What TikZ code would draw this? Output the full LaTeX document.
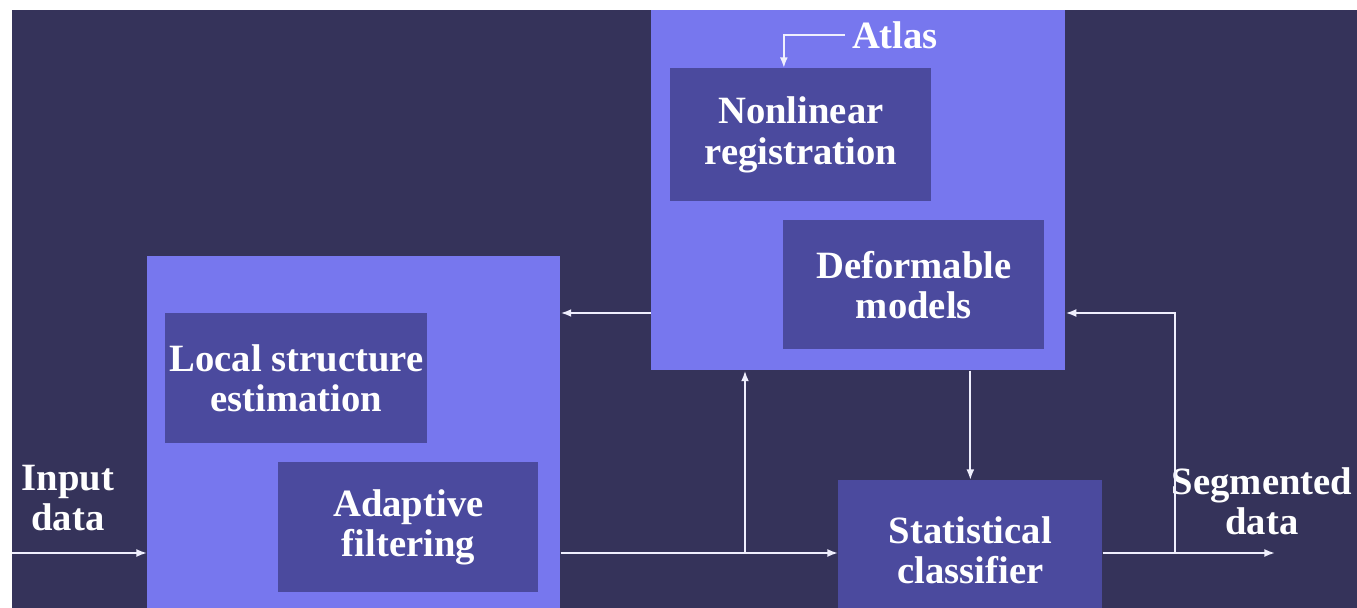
\documentclass[tikz,border=0pt]{standalone}
\usepackage{fontspec}
\setmainfont{Liberation Serif}
\usetikzlibrary{arrows.meta}
\def\pix{0.02cm}
\definecolor{navy}{HTML}{35335A}
\definecolor{lilac}{HTML}{7777EE}
\definecolor{slate}{HTML}{4B4A9E}
\tikzset{my box/.style 2 args={minimum width=#1*\pix,minimum height=#2*\pix,inner sep=0pt,anchor=north west},
         my text/.style={text=white,align=center,inner sep=0pt,font=\fontsize{22}{23}\selectfont\bfseries},
         my flow/.style={draw=white!88!lilac,line width=1.1pt,-{Latex[length=6pt,width=4.5pt]}}}

\begin{document}
\begin{tikzpicture}[x=\pix,y=-\pix]
\useasboundingbox (0,0) rectangle (1357,608);
\fill[navy] (12,10) rectangle (1357,608);
% outer boxes
\node[my box={413}{364},fill=lilac] (pre) at (147,256) {};
\node[my box={414}{360},fill=lilac] (seg) at (651,10) {};
% inner boxes
\node[my box={262}{130},fill=slate,my text] (loc)    at (165,313) {Local structure\\estimation};
\node[my box={260}{130},fill=slate,my text] (adapt)  at (278,462) {Adaptive\\filtering};
\node[my box={261}{133},fill=slate,my text] (nonlin) at (670,68)  {Nonlinear\\registration};
\node[my box={261}{129},fill=slate,my text] (deform) at (783,220) {Deformable\\models};
\node[my box={264}{140},fill=slate,my text] (stat)   at (838,480) {Statistical\\classifier};
% labels
\node[my text] (atlas) at (895,35)  {Atlas};
\node[my text] (input) at (68,498)  {Input\\data};
\node[my text] (segd)  at (1262,501) {Segmented\\data};
\coordinate (in)   at (12,553);
\coordinate (out)  at (1275,553);
\coordinate (fork) at (1175,553);
\coordinate (back) at (1175,313);
\coordinate (tap)  at (745,553);
% arrows
\draw[my flow] (in) -- (in -| pre.west);
\draw[my flow] (pre.east |- in) -- (stat.west |- in);
\draw[my flow] (stat.east |- in) -- (out);
\draw[my flow] (fork) -- (back) -- (back -| seg.east);
\draw[my flow] (seg.west |- back) -- (pre.east |- back);
\draw[my flow] (tap) -- (tap |- seg.south);
\draw[my flow] (seg.south -| stat.north) -- (stat.north);
\draw[my flow] ([xshift=-4pt]atlas.west) -| ([xshift=-17*\pix]nonlin.north);
\end{tikzpicture}
\end{document}
